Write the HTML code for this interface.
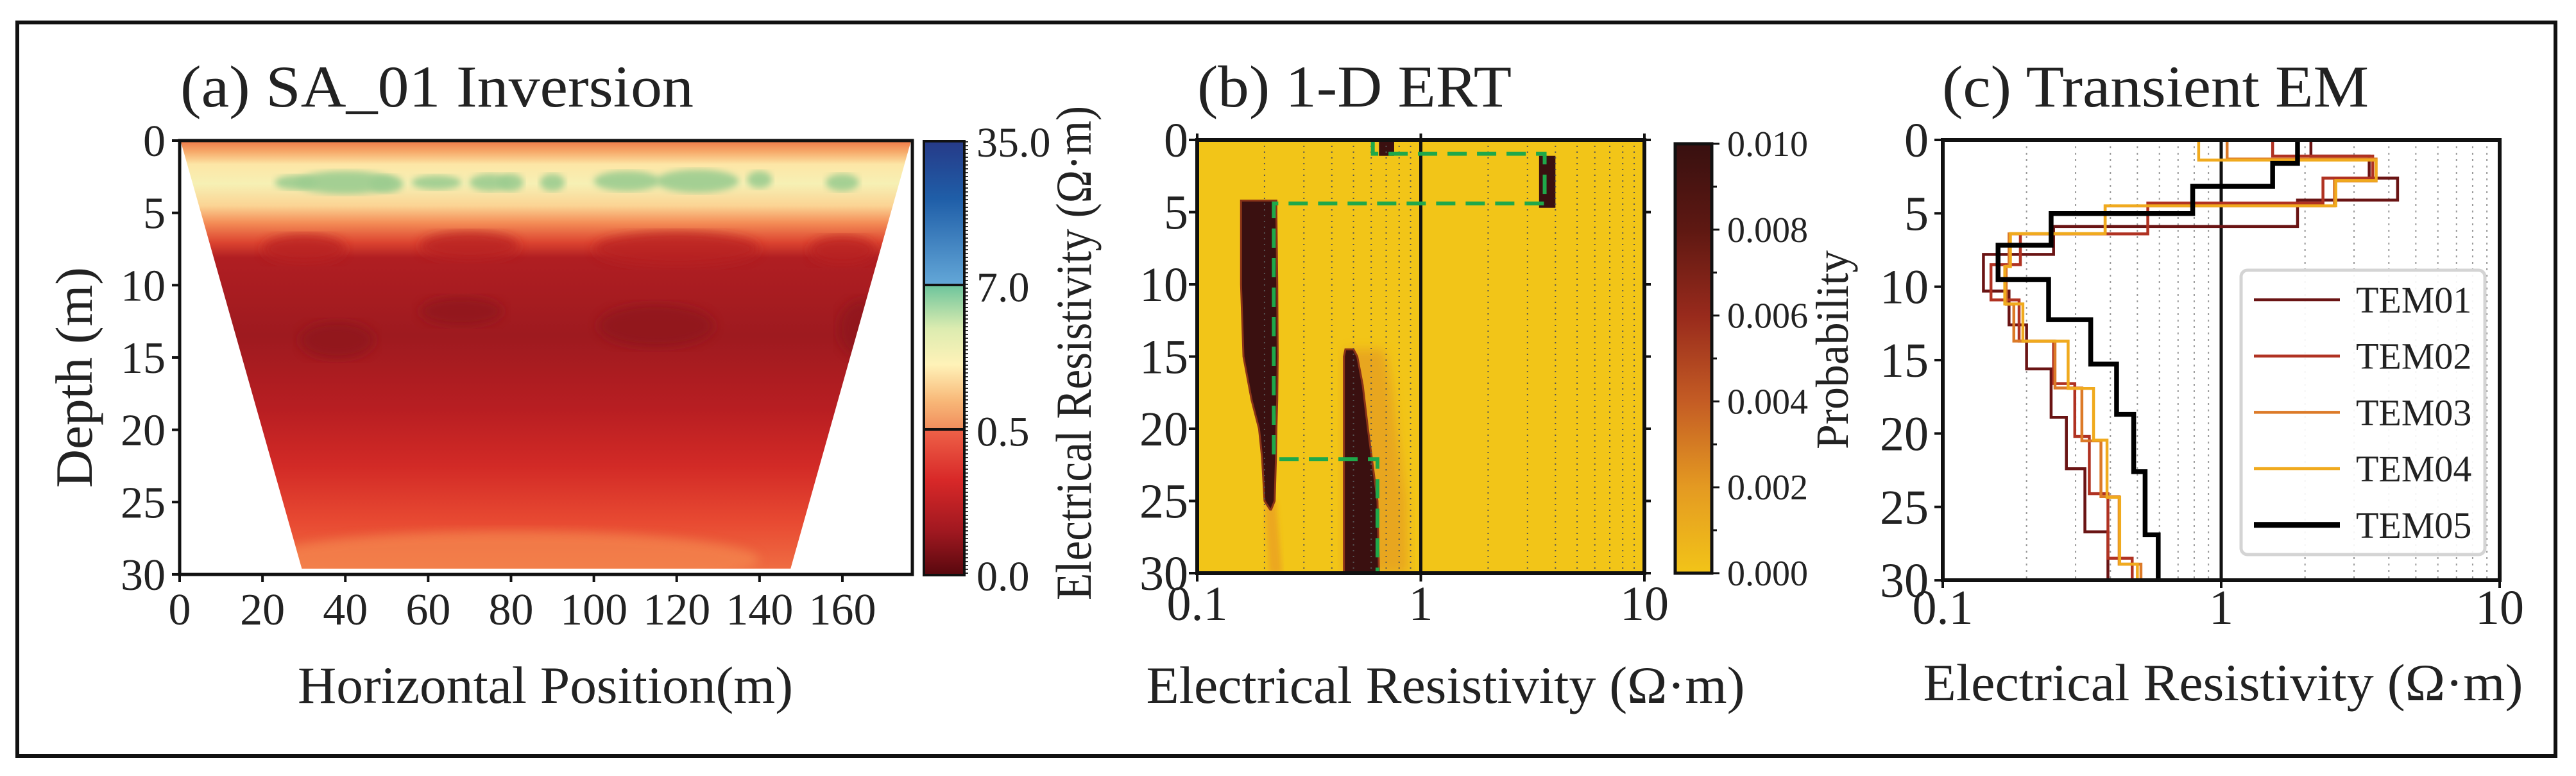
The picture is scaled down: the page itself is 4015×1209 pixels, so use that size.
<!DOCTYPE html>
<html><head><meta charset="utf-8"><style>
html,body{margin:0;padding:0;background:#fff}
svg{display:block}
text{font-family:"Liberation Serif",serif;fill:#222}
</style></head><body>
<svg id="fig" width="4015" height="1209" viewBox="0 0 4015 1209" xmlns="http://www.w3.org/2000/svg">
<defs>
<linearGradient id="gA" x1="0" y1="0" x2="0" y2="1">
<stop offset="0" stop-color="#f07848"/><stop offset="0.025" stop-color="#f6a868"/>
<stop offset="0.055" stop-color="#fde6a6"/><stop offset="0.1" stop-color="#f6f0b4"/>
<stop offset="0.15" stop-color="#fbd494"/><stop offset="0.19" stop-color="#f48c56"/>
<stop offset="0.235" stop-color="#dc4430"/><stop offset="0.27" stop-color="#b01e22"/>
<stop offset="0.45" stop-color="#9e1a1f"/><stop offset="0.62" stop-color="#b81e22"/>
<stop offset="0.75" stop-color="#d22a26"/><stop offset="0.88" stop-color="#e84a32"/>
<stop offset="1" stop-color="#f07044"/></linearGradient>
<linearGradient id="cbA1" x1="0" y1="0" x2="0" y2="1"><stop offset="0" stop-color="#263a88"/><stop offset="0.4" stop-color="#1f5ea8"/><stop offset="1" stop-color="#64a8d8"/></linearGradient>
<linearGradient id="cbA2" x1="0" y1="0" x2="0" y2="1"><stop offset="0" stop-color="#6cc49c"/><stop offset="0.3" stop-color="#dcecb0"/><stop offset="0.55" stop-color="#fff2b8"/><stop offset="0.8" stop-color="#f8b878"/><stop offset="1" stop-color="#f08c5c"/></linearGradient>
<linearGradient id="cbA3" x1="0" y1="0" x2="0" y2="1"><stop offset="0" stop-color="#ee6248"/><stop offset="0.35" stop-color="#d82828"/><stop offset="0.7" stop-color="#a01820"/><stop offset="1" stop-color="#58080e"/></linearGradient>
<linearGradient id="cbB" x1="0" y1="0" x2="0" y2="1"><stop offset="0" stop-color="#381010"/><stop offset="0.2" stop-color="#5e1812"/><stop offset="0.4" stop-color="#982a1c"/><stop offset="0.6" stop-color="#c45c24"/><stop offset="0.8" stop-color="#e49a22"/><stop offset="1" stop-color="#f2c418"/></linearGradient>
<filter id="blur8"><feGaussianBlur stdDeviation="8"/></filter>
<filter id="blur5"><feGaussianBlur stdDeviation="5"/></filter>
<filter id="blur4"><feGaussianBlur stdDeviation="4"/></filter>
<clipPath id="clipA"><polygon id="trap" points="0,0"/></clipPath>
<clipPath id="clipB"><rect x="1866" y="218" width="697" height="675"/></clipPath>
<clipPath id="clipC"><rect x="3028" y="218" width="868" height="686"/></clipPath>
</defs>
<rect x="27" y="35" width="3956" height="1143" fill="none" stroke="#111" stroke-width="6"/>
<g id="pa"></g>
<g id="pb"></g>
<g id="pc"></g>
</svg>
<script>
// ---- Panel c data (TEM soundings) ----
const tem01Depths=[0,1.1,2.6,4.1,5.9,7.8,10.3,12.6,15.6,18.9,22.4,26.7,30];
const tem01Values=[2.1,3.4,4.3,1.88,0.25,0.14,0.173,0.2,0.245,0.278,0.324,0.392];
const tem02Depths=[0,1.1,2.6,4.3,6.4,8.5,10.9,13.7,16.6,20.2,24.1,28.5,30];
const tem02Values=[1.53,3.5,2.32,0.545,0.19,0.149,0.188,0.25,0.298,0.336,0.392,0.479];
const tem03Depths=[0,1.3,2.8,4.5,6.4,8.6,11.2,13.7,16.9,20.5,24.3,28.9,30];
const tem03Values=[1.05,3.6,2.55,0.383,0.173,0.169,0.18,0.253,0.316,0.37,0.43,0.515];
const tem04Depths=[0,1.37,2.77,4.49,6.38,8.63,11.17,13.71,16.93,20.45,24.35,28.9,30];
const tem04Values=[0.83,3.6,2.58,0.383,0.175,0.167,0.194,0.282,0.348,0.389,0.432,0.50];
const tem05Depths=[0,1.6,3.16,5.02,7.17,9.51,12.25,15.27,18.7,22.6,26.9,30];
const tem05Values=[1.88,1.53,0.79,0.245,0.158,0.24,0.34,0.421,0.485,0.533,0.594];
const temNames=["TEM01","TEM02","TEM03","TEM04","TEM05"];
// ---- Panel b data ----
const blobADepths=[4.2,5,10,15,18,20,22,25,25.6];
const blobALeft=[0.157,0.157,0.157,0.161,0.175,0.189,0.195,0.2,0.212];
const blobARight=[0.226,0.226,0.228,0.229,0.228,0.226,0.225,0.222,0.214];
const blobBDepths=[14.5,15,17,20,25,30];
const blobBLeft=[0.46,0.453,0.453,0.453,0.453,0.453];
const blobBRight=[0.5,0.52,0.55,0.58,0.64,0.65];
const blobCRes=[0.65,0.76]; const blobCDepth=[0,1.1];
const blobDRes=[3.38,4.0]; const blobDDepth=[1.1,4.7];
const bestRes=[0.61,0.61,3.58,3.58,0.22,0.22,0.64,0.64];
const bestDepth=[0,0.96,0.96,4.4,4.4,22.1,22.1,30];
// ---- ticks ----
const depthTicks=[0,5,10,15,20,25,30];
const posTicks=[0,20,40,60,80,100,120,140,160];
const logTicks=[0.1,1,10]; const logTickLabels=["0.1","1","10"];
const cbATicks=["35.0","7.0","0.5","0.0"];
const cbBTicks=["0.010","0.008","0.006","0.004","0.002","0.000"];

const NS="http://www.w3.org/2000/svg";
function mk(parent,tag,attrs,txt){const e=document.createElementNS(NS,tag);for(const k in attrs)e.setAttribute(k,attrs[k]);if(txt!==undefined)e.textContent=txt;parent.appendChild(e);return e;}
const pa=document.getElementById('pa'),pb=document.getElementById('pb'),pc=document.getElementById('pc');
const xa=m=>280+m*6.456, ya=d=>219+d*22.53;
const xb=r=>1866+(Math.log10(r)+1)*348.5, yb=d=>218+d*22.5;
const xc=r=>3028+(Math.log10(r)+1)*434, yc=d=>218+d*22.87;

// ===== Panel A =====
document.getElementById('trap').setAttribute('points',`${xa(0.3)},${ya(0.1)} ${xa(176.5)},${ya(0.1)} ${xa(147.5)},${ya(29.6)} ${xa(29.5)},${ya(29.6)}`);
let g=mk(pa,'g',{'clip-path':'url(#clipA)'});


mk(g,'rect',{x:280,y:219,width:1142,height:676,fill:'url(#gA)'});
const greens=[[40,2.9,12,0.8],[50,3.0,4,0.6],[75,2.9,5,0.6],[80,2.9,3,0.6],[90,2.9,3,0.6],[108,2.8,8,0.7],[125,2.8,10,0.8],[140,2.7,3,0.6],[160,2.9,4,0.6],[62,2.9,6,0.5],[28,2.9,5,0.5]];
greens.forEach(p=>mk(g,'ellipse',{cx:xa(p[0]),cy:ya(p[1]),rx:p[2]*6.456,ry:p[3]*22.5,fill:'#9ccc90',filter:'url(#blur5)',opacity:0.9}));
[[30,7.5,10,1],[70,7.3,12,1],[120,7.5,20,1.2],[160,7.6,8,1]].forEach(p=>mk(g,'ellipse',{cx:xa(p[0]),cy:ya(p[1]),rx:p[2]*6.456,ry:p[3]*22.5,fill:'#b82024',filter:'url(#blur8)',opacity:0.8}));
[[38,13.8,9,1.3],[115,12.8,14,1.5],[68,11.8,10,1.0],[165,13,6,2]].forEach(p=>mk(g,'ellipse',{cx:xa(p[0]),cy:ya(p[1]),rx:p[2]*6.456,ry:p[3]*22.5,fill:'#8e161a',filter:'url(#blur8)',opacity:0.75}));
mk(g,'ellipse',{cx:xa(80),cy:ya(29),rx:60*6.456,ry:2*22.5,fill:'#f48850',filter:'url(#blur8)',opacity:0.7});
mk(pa,'rect',{x:280,y:219,width:1142,height:676,fill:'none',stroke:'#111','stroke-width':5});
depthTicks.forEach(d=>{mk(pa,'line',{x1:268,x2:280,y1:ya(d),y2:ya(d),stroke:'#111','stroke-width':4});
 const t=mk(pa,'text',{x:258,y:ya(d)+24,'text-anchor':'end','font-size':70},d);
 });
posTicks.forEach(m=>{mk(pa,'line',{x1:xa(m),x2:xa(m),y1:895,y2:907,stroke:'#111','stroke-width':4});
 const t=mk(pa,'text',{x:xa(m),y:973,'text-anchor':'middle','font-size':70},m);
 });
const cbA=mk(pa,'g',{});


mk(cbA,'rect',{x:1440,y:220,width:63,height:225,fill:'url(#cbA1)'});
mk(cbA,'rect',{x:1440,y:444,width:63,height:226,fill:'url(#cbA2)'});
mk(cbA,'rect',{x:1440,y:669,width:63,height:227,fill:'url(#cbA3)'});
mk(cbA,'rect',{x:1440,y:220,width:63,height:676,fill:'none',stroke:'#111','stroke-width':4});
mk(cbA,'line',{x1:1440,x2:1503,y1:444,y2:444,stroke:'#111','stroke-width':4});
mk(cbA,'line',{x1:1440,x2:1503,y1:669,y2:669,stroke:'#111','stroke-width':4});
mk(cbA,'line',{x1:1507,x2:1507,y1:220,y2:896,stroke:'#333','stroke-width':4,'stroke-dasharray':'2 4'});
cbATicks.forEach((s,i)=>{const t=mk(cbA,'text',{x:1522,y:220+i*225.3+24,'font-size':66},s);
 });
let t=mk(pa,'text',{x:281,y:166,'font-size':92,textLength:800,lengthAdjust:'spacingAndGlyphs'},'(a) SA_01 Inversion');

t=mk(pa,'text',{x:850,y:1095,'text-anchor':'middle','font-size':82,textLength:772,lengthAdjust:'spacingAndGlyphs'},'Horizontal Position(m)');

t=mk(pa,'text',{x:143,y:588,'text-anchor':'middle','font-size':82,transform:'rotate(-90 143 588)',textLength:344,lengthAdjust:'spacingAndGlyphs'},'Depth (m)');


// ===== Panel B =====
g=mk(pb,'g',{'clip-path':'url(#clipB)'});


mk(g,'rect',{x:1866,y:218,width:697,height:675,fill:'#f2c518'});
function band(depths,left,right){let pts=[];depths.forEach((d,i)=>pts.push(xb(left[i])+','+yb(d)));for(let i=depths.length-1;i>=0;i--)pts.push(xb(right[i])+','+yb(depths[i]));return pts.join(' ');}
mk(g,'polygon',{points:band(blobBDepths,blobBLeft,blobBRight.map(v=>v*1.35)),fill:'#e49a24',filter:'url(#blur8)',opacity:0.7});
mk(g,'polygon',{points:band([25,30],[0.2,0.21],[0.225,0.24]),fill:'#eaa020',filter:'url(#blur4)',opacity:0.8});
const bA=mk(g,'polygon',{points:band(blobADepths,blobALeft,blobARight),fill:'#3a1010',stroke:'#8a3418','stroke-width':3});

const bB=mk(g,'polygon',{points:band(blobBDepths,blobBLeft,blobBRight),fill:'#3a1010',stroke:'#8a3418','stroke-width':3});

const bC=mk(g,'rect',{x:xb(blobCRes[0]),y:yb(blobCDepth[0]),width:xb(blobCRes[1])-xb(blobCRes[0]),height:yb(blobCDepth[1])-yb(blobCDepth[0]),fill:'#3a1010'});

const bD=mk(g,'rect',{x:xb(blobDRes[0]),y:yb(blobDDepth[0]),width:xb(blobDRes[1])-xb(blobDRes[0]),height:yb(blobDDepth[1])-yb(blobDDepth[0]),fill:'#3a1010'});

[0.1,1].forEach(dec=>{for(let k=2;k<=9;k++)mk(g,'line',{x1:xb(dec*k),x2:xb(dec*k),y1:218,y2:893,stroke:'#555','stroke-width':2,'stroke-dasharray':'2 7'});});
mk(g,'line',{x1:xb(1),x2:xb(1),y1:218,y2:893,stroke:'#111','stroke-width':5});
const bp=mk(g,'path',{d:bestRes.map((r,i)=>(i?'L':'M')+xb(r)+' '+yb(bestDepth[i])).join(' '),fill:'none',stroke:'#1fa84a','stroke-width':6,'stroke-dasharray':'30 16'});

mk(pb,'rect',{x:1866,y:218,width:697,height:675,fill:'none',stroke:'#111','stroke-width':6});
depthTicks.forEach(d=>{mk(pb,'line',{x1:1853,x2:1866,y1:yb(d),y2:yb(d),stroke:'#111','stroke-width':4});
 mk(pb,'line',{x1:2563,x2:2573,y1:yb(d),y2:yb(d),stroke:'#111','stroke-width':4});
 const tt=mk(pb,'text',{x:1852,y:yb(d)+26,'text-anchor':'end','font-size':76},d);
 });
logTicks.forEach((r,i)=>{mk(pb,'line',{x1:xb(r),x2:xb(r),y1:893,y2:906,stroke:'#111','stroke-width':4});mk(pb,'line',{x1:xb(r),x2:xb(r),y1:208,y2:218,stroke:'#111','stroke-width':4});
 const tt=mk(pb,'text',{x:xb(r),y:966,'text-anchor':'middle','font-size':76},logTickLabels[i]);
 });
const cbB=mk(pb,'g',{});


mk(cbB,'rect',{x:2611,y:224,width:57,height:669,fill:'url(#cbB)',stroke:'#111','stroke-width':5});
cbBTicks.forEach((s,i)=>{const y=224+i*133.8;mk(cbB,'line',{x1:2668,x2:2680,y1:y,y2:y,stroke:'#111','stroke-width':3});
 if(i<5)mk(cbB,'line',{x1:2668,x2:2676,y1:y+66.9,y2:y+66.9,stroke:'#111','stroke-width':3});
 const tt=mk(cbB,'text',{x:2692,y:y+19,'font-size':56},s);
 });
t=mk(pb,'text',{x:1866,y:166,'font-size':92,textLength:490,lengthAdjust:'spacingAndGlyphs'},'(b) 1-D ERT');

t=mk(pb,'text',{x:2253,y:1095,'text-anchor':'middle','font-size':82,textLength:933,lengthAdjust:'spacingAndGlyphs'},'Electrical Resistivity (Ω·m)');

t=mk(pb,'text',{x:1700,y:550,'text-anchor':'middle','font-size':78,transform:'rotate(-90 1700 550)',textLength:770,lengthAdjust:'spacingAndGlyphs'},'Electrical Resistivity (Ω·m)');

t=mk(pb,'text',{x:2880,y:545,'text-anchor':'middle','font-size':72,transform:'rotate(-90 2880 545)',textLength:310,lengthAdjust:'spacingAndGlyphs'},'Probability');


// ===== Panel C =====
g=mk(pc,'g',{'clip-path':'url(#clipC)'});
[0.1,1].forEach(dec=>{for(let k=2;k<=9;k++)mk(g,'line',{x1:xc(dec*k),x2:xc(dec*k),y1:218,y2:904,stroke:'#999','stroke-width':2,'stroke-dasharray':'3 7'});});
mk(g,'line',{x1:xc(1),x2:xc(1),y1:218,y2:904,stroke:'#111','stroke-width':5});
const temDepths=[tem01Depths,tem02Depths,tem03Depths,tem04Depths,tem05Depths];
const temValues=[tem01Values,tem02Values,tem03Values,tem04Values,tem05Values];
const temColors=['#6a1414','#b03222','#dc7a28','#f0aa1e','#000'];
const temWidths=[4.5,4.5,4.5,4.5,7.5];
temValues.forEach((vals,s)=>{const ds=temDepths[s];let d='M'+xc(vals[0])+' '+yc(ds[0]);
 vals.forEach((v,i)=>{if(i>0)d+=' H'+xc(v);d+=' V'+yc(ds[i+1]);});
 const p=mk(g,'path',{d:d,fill:'none',stroke:temColors[s],'stroke-width':temWidths[s],'stroke-linejoin':'miter'});
 });
mk(pc,'rect',{x:3028,y:218,width:868,height:686,fill:'none',stroke:'#111','stroke-width':6});
depthTicks.forEach(d=>{mk(pc,'line',{x1:3015,x2:3028,y1:yc(d),y2:yc(d),stroke:'#111','stroke-width':4});
 const tt=mk(pc,'text',{x:3006,y:yc(d)+26,'text-anchor':'end','font-size':76},d);
 });
logTicks.forEach((r,i)=>{mk(pc,'line',{x1:xc(r),x2:xc(r),y1:904,y2:916,stroke:'#111','stroke-width':4});
 const tt=mk(pc,'text',{x:xc(r),y:972,'text-anchor':'middle','font-size':76},logTickLabels[i]);
 });
const lg=mk(pc,'g',{});


mk(lg,'rect',{x:3493,y:421,width:380,height:443,rx:10,fill:'#fff','fill-opacity':0.9,stroke:'#d4d4d4','stroke-width':5});
temNames.forEach((n,i)=>{const y=467+i*87.7;
 const ln=mk(lg,'line',{x1:3513,x2:3647,y1:y,y2:y,stroke:temColors[i],'stroke-width':i==4?9:4.5});
 
 const tt=mk(lg,'text',{x:3672,y:y+20,'font-size':58},n);
 });
t=mk(pc,'text',{x:3027,y:166,'font-size':92,textLength:665,lengthAdjust:'spacingAndGlyphs'},'(c) Transient EM');

t=mk(pc,'text',{x:3465,y:1091,'text-anchor':'middle','font-size':82,textLength:935,lengthAdjust:'spacingAndGlyphs'},'Electrical Resistivity (Ω·m)');

</script>
</body></html>
